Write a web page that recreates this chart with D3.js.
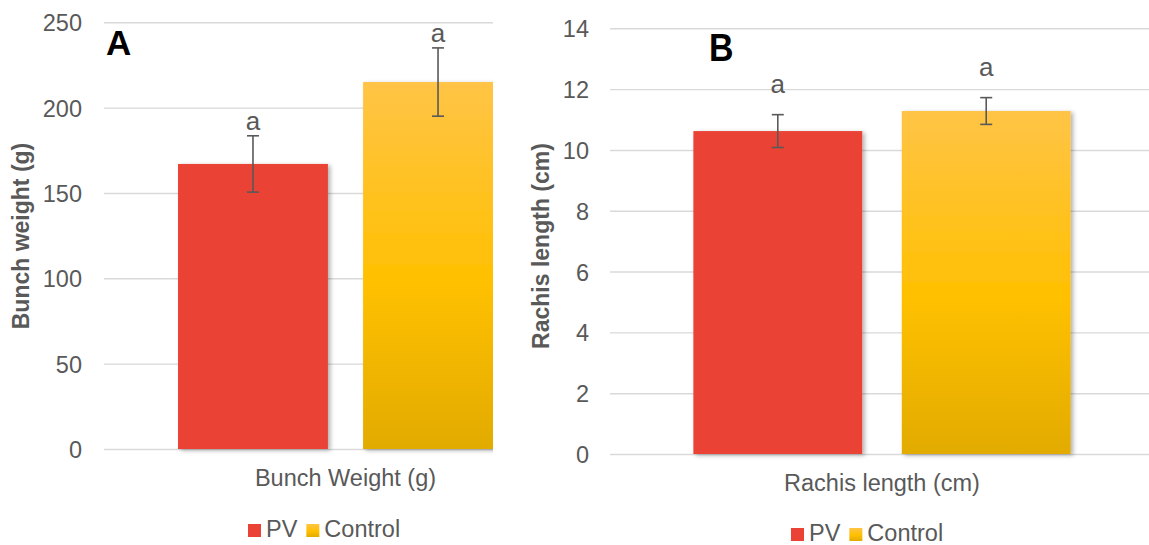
<!DOCTYPE html>
<html>
<head>
<meta charset="utf-8">
<script src="https://cdn.jsdelivr.net/npm/d3@7"></script>
<style>
  body { margin: 0; background: #fff; }
  svg { display: block; font-family: "Liberation Sans", Arial, sans-serif; }
</style>
</head>
<body>
<svg id="chart" width="1149" height="545"></svg>
<script>
// Treatments shown in both panels
const series = ["PV", "Control"];

// Panel A: bunch weight
const bunchCategory = ["Bunch Weight (g)"];
const bunchMeans = [167, 215];
const bunchErrors = [16.5, 20];
const bunchLetters = ["a", "a"];
const bunchTicks = [0, 50, 100, 150, 200, 250];

// Panel B: rachis length
const rachisCategory = ["Rachis length (cm)"];
const rachisMeans = [10.62, 11.28];
const rachisErrors = [0.54, 0.44];
const rachisLetters = ["a", "a"];
const rachisTicks = [0, 2, 4, 6, 8, 10, 12, 14];

const TEXT = "#595959";
const svg = d3.select("#chart");
const defs = svg.append("defs");

// Control bars: vertical gold gradient
const grad = defs.append("linearGradient").attr("id", "ctrlGrad")
  .attr("x1", 0).attr("y1", 0).attr("x2", 0).attr("y2", 1);
grad.append("stop").attr("offset", "0%").attr("stop-color", "#FFC446");
grad.append("stop").attr("offset", "55%").attr("stop-color", "#FFC000");
grad.append("stop").attr("offset", "100%").attr("stop-color", "#E2AB00");

// soft shadow under the bars
const sh = defs.append("filter").attr("id", "barShadow")
  .attr("x", "-10%").attr("y", "-10%").attr("width", "130%").attr("height", "130%");
sh.append("feDropShadow").attr("dx", 2.5).attr("dy", 1.5).attr("stdDeviation", 2)
  .attr("flood-color", "#000").attr("flood-opacity", 0.3);

// Panel A is cut off on its right edge
defs.append("clipPath").attr("id", "clipA")
  .append("rect").attr("x", 0).attr("y", 0).attr("width", 493).attr("height", 545);

const fills = { PV: "#EA4335", Control: "url(#ctrlGrad)" };

function drawPanel(cfg) {
  const root = svg.append("g");
  const plot = root.append("g").attr("clip-path", cfg.clip ? `url(#${cfg.clip})` : null);

  const y = d3.scaleLinear()
    .domain([0, cfg.ticks[cfg.ticks.length - 1]])
    .range([cfg.yBottom, cfg.yTop]);
  const x0 = d3.scaleBand().domain(cfg.category).range([cfg.xLeft, cfg.xRight]);
  const x1 = d3.scaleBand().domain(series).range([0, x0.bandwidth()])
    .paddingInner(0.19).paddingOuter(0.4);

  // horizontal gridlines
  plot.append("g")
    .attr("transform", `translate(${cfg.xLeft},0)`)
    .call(d3.axisLeft(y).tickValues(cfg.ticks).tickSize(-(cfg.xRight - cfg.xLeft)).tickFormat(""))
    .call(s => {
      s.select(".domain").remove();
      s.selectAll("line").attr("stroke", "#d9d9d9").attr("stroke-width", 1.4);
    });

  // tick labels
  root.append("g")
    .attr("transform", `translate(${cfg.tickX},0)`)
    .call(d3.axisLeft(y).tickValues(cfg.ticks).tickSize(0).tickPadding(0))
    .call(s => {
      s.attr("font-family", null).attr("font-size", null);
      s.select(".domain").remove();
      s.selectAll("text").attr("fill", TEXT).attr("font-size", 23.5).attr("dy", "0.36em");
    });

  const rows = series.map((k, i) => ({
    key: k, cat: cfg.category[0], mean: cfg.means[i], err: cfg.errors[i], letter: cfg.letters[i]
  }));

  // bars
  plot.append("g").selectAll("rect").data(rows).join("rect")
    .attr("x", d => x0(d.cat) + x1(d.key))
    .attr("width", x1.bandwidth())
    .attr("y", d => y(d.mean))
    .attr("height", d => y(0) - y(d.mean))
    .attr("fill", d => fills[d.key])
    .attr("filter", "url(#barShadow)");

  // error bars
  const cap = 6;
  const eb = plot.append("g").attr("stroke", TEXT).attr("stroke-width", 1.6).selectAll("g").data(rows).join("g")
    .attr("transform", d => `translate(${x0(d.cat) + x1(d.key) + x1.bandwidth() / 2},0)`);
  eb.append("line").attr("y1", d => y(d.mean + d.err)).attr("y2", d => y(d.mean - d.err));
  eb.append("line").attr("x1", -cap).attr("x2", cap).attr("y1", d => y(d.mean + d.err)).attr("y2", d => y(d.mean + d.err));
  eb.append("line").attr("x1", -cap).attr("x2", cap).attr("y1", d => y(d.mean - d.err)).attr("y2", d => y(d.mean - d.err));

  // significance letters
  plot.append("g").selectAll("text").data(rows).join("text")
    .attr("x", d => x0(d.cat) + x1(d.key) + x1.bandwidth() / 2)
    .attr("y", d => y(d.mean + d.err) - cfg.letterGap)
    .attr("text-anchor", "middle").attr("font-size", 26).attr("fill", TEXT)
    .text(d => d.letter);

  // category title under the axis
  root.append("text")
    .attr("x", x0(cfg.category[0]) + x0.bandwidth() / 2).attr("y", cfg.xTitleY)
    .attr("text-anchor", "middle").attr("font-size", 23.5).attr("fill", TEXT)
    .text(cfg.category[0]);

  // y-axis title
  root.append("text")
    .attr("transform", `translate(${cfg.yTitleX},${cfg.yTitleY}) rotate(-90)`)
    .attr("text-anchor", "middle").attr("font-size", 23).attr("font-weight", "bold").attr("fill", TEXT)
    .text(cfg.yTitle);

  // legend
  const lg = root.append("g").attr("font-size", 23.5).attr("fill", TEXT);
  let lx = cfg.legendX;
  series.forEach(k => {
    lg.append("rect").attr("x", lx).attr("y", cfg.legendY - 13).attr("width", 13).attr("height", 13).attr("fill", fills[k]);
    const t = lg.append("text").attr("x", lx + 18).attr("y", cfg.legendY).text(k);
    lx += 18 + t.node().getComputedTextLength() + 9;
  });

  return root;
}

const pA = drawPanel({
  clip: "clipA",
  category: bunchCategory, means: bunchMeans, errors: bunchErrors, letters: bunchLetters, ticks: bunchTicks,
  xLeft: 104, xRight: 587, yTop: 22.3, yBottom: 449,
  tickX: 82, letterGap: 6, xTitleY: 486,
  yTitle: "Bunch weight (g)", yTitleX: 29, yTitleY: 236,
  legendX: 248, legendY: 537
});
pA.append("text").attr("x", 106).attr("y", 55)
  .attr("font-size", 35).attr("font-weight", "bold").attr("fill", "#000").text("A");

const pB = drawPanel({
  clip: null,
  category: rachisCategory, means: rachisMeans, errors: rachisErrors, letters: rachisLetters, ticks: rachisTicks,
  xLeft: 610, xRight: 1154, yTop: 28.3, yBottom: 454,
  tickX: 589, letterGap: 22, xTitleY: 491,
  yTitle: "Rachis length (cm)", yTitleX: 549, yTitleY: 246,
  legendX: 791, legendY: 541
});
pB.append("text").attr("transform", "translate(709,61) scale(0.87,1)")
  .attr("font-size", 39).attr("font-weight", "bold").attr("fill", "#000").text("B");
</script>
</body>
</html>
